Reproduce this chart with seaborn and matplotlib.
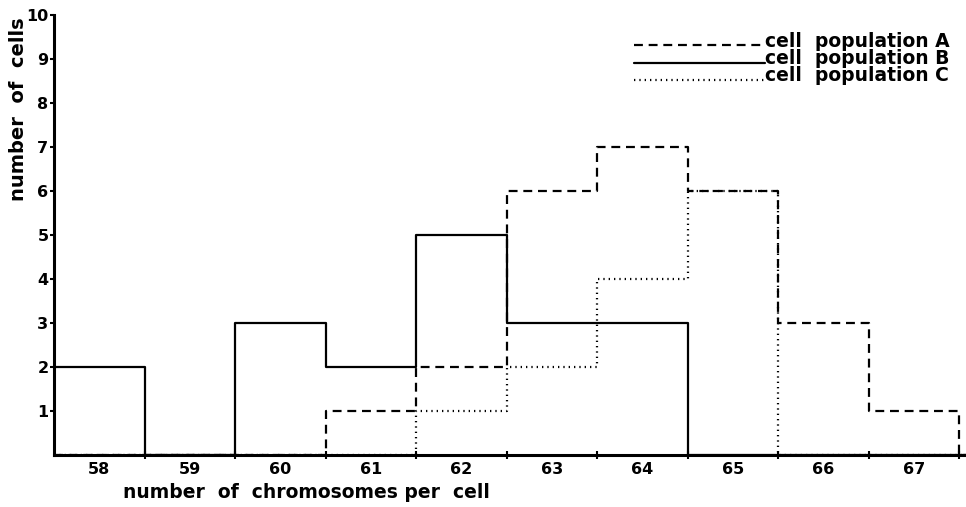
import numpy as np
import pandas as pd
import matplotlib
matplotlib.use("Agg")
import matplotlib.pyplot as plt
import seaborn as sns
from matplotlib.legend_handler import HandlerLine2D

# chromosome counts per cell (x categories); 68 is an empty bin so the
# last step drops back to zero at the edge of the plot
chromosomes = [58, 59, 60, 61, 62, 63, 64, 65, 66, 67, 68]

# number of cells for each population
pop_a = [0, 0, 0, 1, 2, 6, 7, 6, 3, 1, 0]
pop_b = [2, 0, 3, 2, 5, 3, 3, 0, 0, 0, 0]
pop_c = [0, 0, 0, 0, 1, 2, 4, 6, 0, 0, 0]

tick_labels = ["58", "59", "60", "61", "62", "63", "64", "65", "66", "67"]
labels = ["cell  population A", "cell  population B", "cell  population C"]
styles = [(0, (4, 2.6)), "-", (0, (0.6, 1.8))]

rows = []
for lab, vals in zip(labels, [pop_a, pop_b, pop_c]):
    for c, v in zip(chromosomes, vals):
        rows.append({"chrom": c, "cells": v, "pop": lab})
df = pd.DataFrame(rows)


class BaselineHandler(HandlerLine2D):
    # draw the legend line near the text baseline, like the original
    def create_artists(self, legend, orig_handle, xdescent, ydescent,
                       width, height, fontsize, trans):
        arts = super().create_artists(legend, orig_handle, xdescent, ydescent,
                                      width, height, fontsize, trans)
        for a in arts:
            a.set_ydata(np.asarray(a.get_ydata()) - 0.4 * height)
        return arts


sns.set_style("ticks")
plt.rcParams["font.family"] = ["DejaVu Sans"]
plt.rcParams["font.weight"] = "bold"
for key in ["text.color", "axes.labelcolor", "xtick.color", "ytick.color",
            "axes.edgecolor"]:
    plt.rcParams[key] = "black"

fig = plt.figure(figsize=(9.66, 5.07), dpi=100)
# axes run to the right edge of the image, bins are ~90.5 px wide
ax = fig.add_axes([54 / 966, 52 / 507, 912 / 966, 440 / 507])

for lab, ls in zip(labels, styles):
    sub = df[df["pop"] == lab]
    sns.histplot(data=sub, x="chrom", weights="cells", discrete=True,
                 element="step", fill=False, color="black",
                 linewidth=1.6, linestyle=ls, ax=ax, label=lab)

ax.set_xlim(57.5, 67.5 + 7 / 90.5)
ax.set_ylim(0, 10)
sns.despine(ax=ax)
for sp in ["left", "bottom"]:
    ax.spines[sp].set_linewidth(2.2)

centers = chromosomes[:-1]
ax.set_xticks(centers)
ax.set_xticklabels(tick_labels, fontsize=11.5, fontweight="bold")
ax.tick_params(axis="x", which="major", length=0, pad=5)
ax.set_xticks(np.array(centers) + 0.5, minor=True)
ax.tick_params(axis="x", which="minor", direction="inout", length=6, width=1.5)

ax.set_yticks(range(1, 11))
ax.set_yticklabels([str(i) for i in range(1, 11)], fontsize=11.5, fontweight="bold")
ax.tick_params(axis="y", direction="out", length=3, width=1.5, pad=1)

ax.set_xlabel("number  of  chromosomes per  cell", fontsize=13.5, fontweight="bold")
ax.xaxis.set_label_coords(0.277, -0.064)
ax.set_ylabel("number  of  cells", fontsize=14, fontweight="bold")
ax.yaxis.set_label_coords(-0.029, 0.785)

leg = ax.legend(loc="upper right", bbox_to_anchor=(0.9825, 0.962), frameon=False,
                handlelength=7.0, handletextpad=0.0, labelspacing=-0.1,
                borderpad=0.0, borderaxespad=0.0,
                handler_map={matplotlib.lines.Line2D: BaselineHandler()},
                prop={"size": 13.5, "weight": "bold"})

fig.savefig("out.png", dpi=100, facecolor="white")
